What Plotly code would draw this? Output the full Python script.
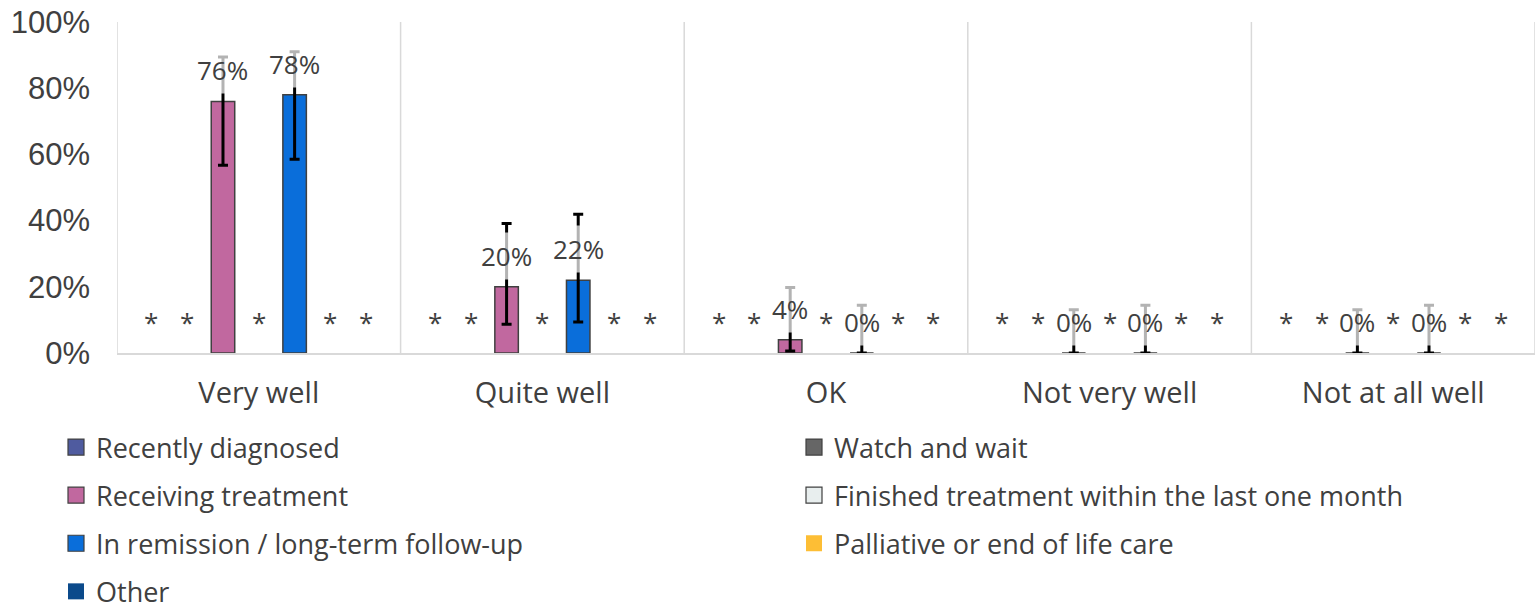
import plotly.graph_objects as go

# ---------------- data ----------------
categories = ["Very well", "Quite well", "OK", "Not very well", "Not at all well"]

series_names = [
    "Recently diagnosed",
    "Watch and wait",
    "Receiving treatment",
    "Finished treatment within the last one month",
    "In remission / long-term follow-up",
    "Palliative or end of life care",
    "Other",
]

# suppressed series (shown as "*")
recently_diagnosed = [None, None, None, None, None]
watch_and_wait = [None, None, None, None, None]
finished_treatment = [None, None, None, None, None]
palliative = [None, None, None, None, None]
other = [None, None, None, None, None]

receiving_treatment = [76, 20, 4, 0, 0]
receiving_ci_upper = [89.4, 39.1, 19.8, 13.1, 13.1]
receiving_ci_lower = [56.7, 8.7, 0.6, 0, 0]

in_remission = [78, 22, 0, 0, 0]
remission_ci_upper = [91.0, 41.9, 14.4, 14.4, 14.4]
remission_ci_lower = [58.5, 9.4, 0, 0, 0]

y_tick_values = [0, 20, 40, 60, 80, 100]
y_tick_labels = ["0%", "20%", "40%", "60%", "80%", "100%"]

# ---------------- styling ----------------
colors = ["#4F5B9F", "#666666", "#C1689F", "#E8EEEE", "#0A6EDA", "#FDBE35", "#0B4A8B"]
has_outline = [True, True, True, True, True, False, False]
legend_of = ["legend", "legend2", "legend", "legend2", "legend", "legend2", "legend"]

W, H = 1538, 609
M_L, M_R, M_T, M_B = 117, 3, 22, 256
BARGAP = 0.116
BARGROUPGAP = 0.344
TEXT = "#404040"
FONT = "Open Sans"

values = [recently_diagnosed, watch_and_wait, receiving_treatment, finished_treatment,
          in_remission, palliative, other]
errors = {
    2: (receiving_ci_upper, receiving_ci_lower),
    4: (remission_ci_upper, remission_ci_lower),
}

fig = go.Figure()

for i, name in enumerate(series_names):
    err = None
    if i in errors:
        up, lo = errors[i]
        v = values[i]
        err = dict(
            type="data", symmetric=False,
            array=[u - a for u, a in zip(up, v)],
            arrayminus=[a - l for a, l in zip(v, lo)],
            color="#000000", thickness=3, width=5,
        )
    fig.add_trace(go.Bar(
        x=categories, y=values[i], name=name,
        marker=dict(color=colors[i],
                    line=dict(color="#404040", width=1.5 if has_outline[i] else 0)),
        error_y=err,
        legendgroup=name, showlegend=False, hoverinfo="skip",
    ))

# legend proxies (square markers)
for i, name in enumerate(series_names):
    fig.add_trace(go.Scatter(
        x=[None], y=[None], mode="markers", name=name,
        marker=dict(symbol="square", size=16, color=colors[i],
                    line=dict(color="#404040", width=1.2 if has_outline[i] else 0)),
        legend=legend_of[i], legendgroup=name, showlegend=True,
    ))

# data labels
plot_w = W - M_L - M_R
slot = (1 - BARGAP) * plot_w / len(categories) / len(series_names)
annotations = []
for i in range(len(series_names)):
    shift = (i - (len(series_names) - 1) / 2) * slot
    for c, cat in enumerate(categories):
        v = values[i][c]
        if v is None:
            annotations.append(dict(
                x=cat, y=0, xref="x", yref="y", text="*", showarrow=False,
                xanchor="center", yanchor="bottom", xshift=shift, yshift=7,
                font=dict(family=FONT, size=26, color=TEXT), borderpad=5,
            ))
        else:
            annotations.append(dict(
                x=cat, y=v, xref="x", yref="y", text=f"{v}%", showarrow=False,
                xanchor="center", yanchor="bottom", xshift=shift, yshift=7,
                font=dict(family=FONT, size=26, color=TEXT),
                bgcolor="rgba(255,255,255,0.7)", borderpad=5,
            ))

# category divider lines
shapes = []
for k in range(len(categories) + 1):
    shapes.append(dict(type="line", xref="x", yref="paper", x0=k - 0.5, x1=k - 0.5,
                       y0=0, y1=1, line=dict(color="#D9D9D9", width=1.5), layer="below"))

legend_common = dict(
    font=dict(family=FONT, size=27, color=TEXT),
    bgcolor="rgba(0,0,0,0)", traceorder="grouped", tracegroupgap=10,
    orientation="v", xanchor="left", yanchor="top", itemclick=False,
    itemdoubleclick=False, xref="container", yref="container",
)

fig.update_layout(
    width=W, height=H,
    margin=dict(l=M_L, r=M_R, t=M_T, b=M_B, autoexpand=False),
    paper_bgcolor="white", plot_bgcolor="white",
    barmode="group", bargap=BARGAP, bargroupgap=BARGROUPGAP,
    font=dict(family=FONT, color=TEXT),
    xaxis=dict(
        type="category", range=[-0.5, len(categories) - 0.5], automargin=False,
        showgrid=False, showline=True, linecolor="#D9D9D9", linewidth=2,
        ticks="", tickfont=dict(family=FONT, size=29, color=TEXT),
        ticklabelstandoff=13, zeroline=False,
    ),
    yaxis=dict(
        range=[0, 100], tickvals=y_tick_values, ticktext=y_tick_labels, automargin=False,
        showgrid=False, showline=False, zeroline=False, ticks="",
        tickfont=dict(family="Liberation Sans", size=31, color=TEXT),
        ticklabelstandoff=26,
    ),
    legend=dict(x=56 / W, y=1 - 423 / H, **legend_common),
    legend2=dict(x=794 / W, y=1 - 423 / H, **legend_common),
    annotations=annotations,
    shapes=shapes,
)

fig.write_html(
    "out.html",
    config={"displayModeBar": False},
    post_script="document.body.style.margin='0px';document.body.style.overflow='hidden';",
)
